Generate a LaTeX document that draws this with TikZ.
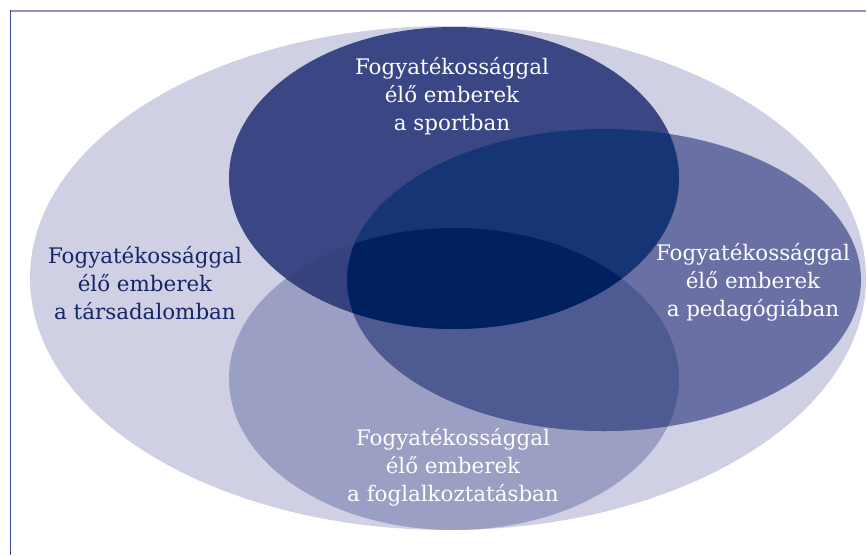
\documentclass[tikz,border=0pt]{standalone}
\usepackage{fontspec}
\setmainfont{DejaVu Serif}
\definecolor{bigc}{RGB}{207,208,227}
\definecolor{sc}{RGB}{58,71,132}
\definecolor{pc}{RGB}{107,112,164}
\definecolor{ec}{RGB}{156,159,196}
\definecolor{sec}{RGB}{54,66,126}
\definecolor{pec}{RGB}{78,90,146}
\definecolor{spc}{RGB}{22,53,117}
\definecolor{spec}{RGB}{0,32,95}
\definecolor{navytext}{RGB}{22,36,104}
\definecolor{topline}{RGB}{143,149,189}
\definecolor{leftline}{RGB}{59,74,156}
\begin{document}
\begin{tikzpicture}[x=1pt,y=-1pt,
  lbl/.style={align=center,font=\fontsize{21.4}{28}\selectfont,inner sep=0pt},
  wlbl/.style={lbl,text=white},
  nlbl/.style={lbl,text=navytext}]
\useasboundingbox (0,0) rectangle (867,555);
\def\bigE{(448,278) ellipse [x radius=418,y radius=252]}
\def\sE{(454,178) ellipse [x radius=225,y radius=151]}
\def\pE{(604,280) ellipse [x radius=257,y radius=151]}
\def\eE{(454,379) ellipse [x radius=225,y radius=151]}
\fill[bigc] \bigE;
\fill[ec] \eE;
\fill[pc] \pE;
\fill[sc] \sE;
\begin{scope}
  \clip \sE;
  \fill[sec] \eE;
\end{scope}
\begin{scope}
  \clip \pE;
  \fill[pec] \eE;
\end{scope}
\begin{scope}
  \clip \pE;
  \fill[spc] \sE;
\end{scope}
\begin{scope}
  \clip \pE;
  \clip \sE;
  \fill[spec] \eE;
\end{scope}
\draw[topline,line width=2pt] (10,10.8) -- (866,10.8);
\draw[leftline,line width=1.5pt] (10.5,10) -- (10.5,555);
\node[wlbl] (sport) at (452,96) {Fogyatékossággal\\élő emberek\\a sportban};
\node[nlbl] (tars) at (145,283) {Fogyatékossággal\\élő emberek\\a társadalomban};
\node[wlbl] (ped) at (753,282) {Fogyatékossággal\\élő emberek\\a pedagógiában};
\node[wlbl] (fogl) at (453,467) {Fogyatékossággal\\élő emberek\\a foglalkoztatásban};
\end{tikzpicture}
\end{document}
